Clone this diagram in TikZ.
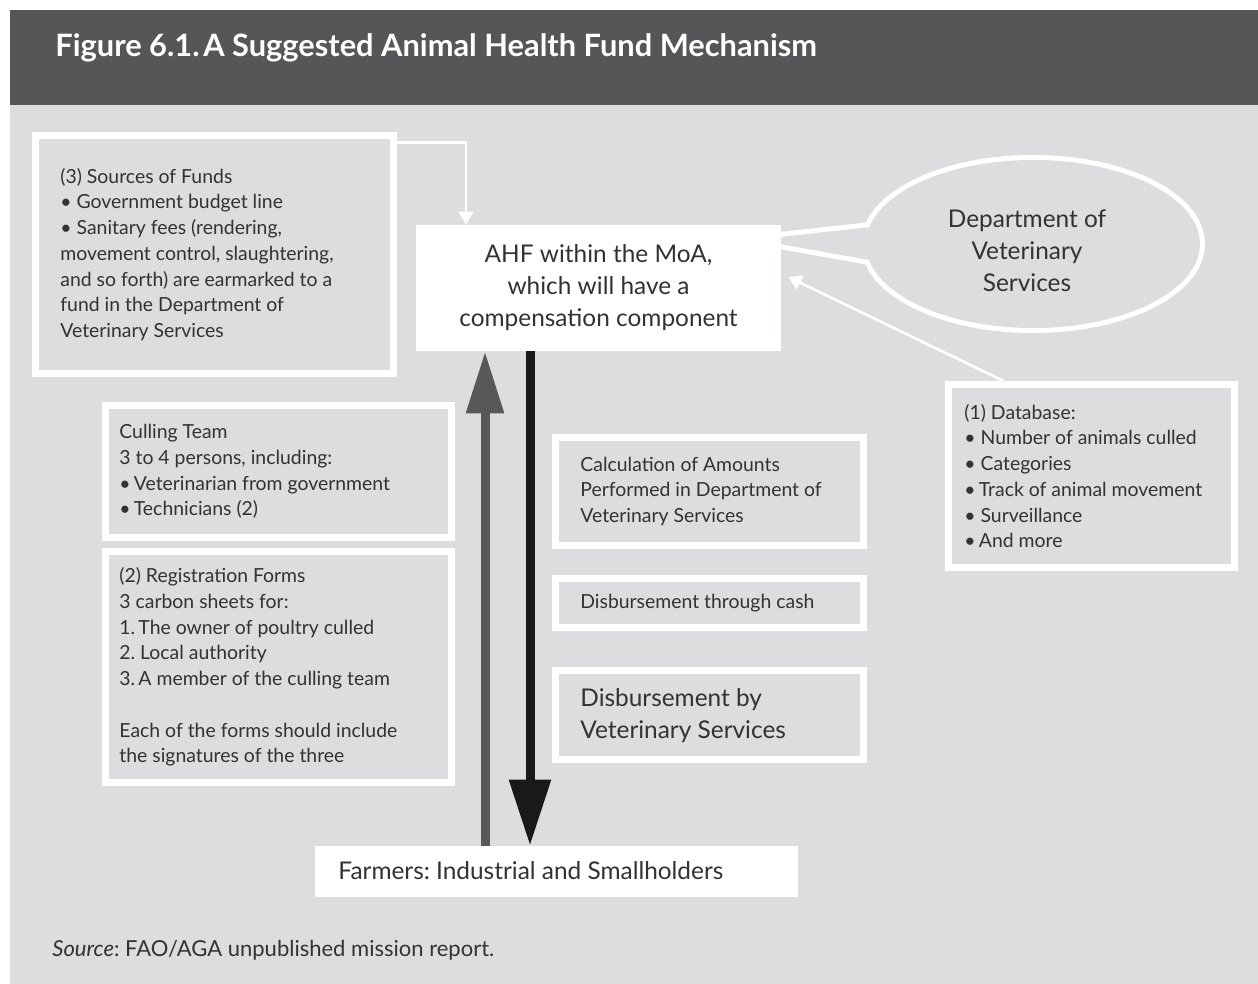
\documentclass[tikz,border=0pt]{standalone}
\usepackage{fontspec}
\setmainfont{Lato}
\usetikzlibrary{arrows.meta,shapes.geometric}
\definecolor{bggray}{RGB}{220,221,223}
\definecolor{headgray}{RGB}{86,86,89}
\definecolor{inkgray}{RGB}{50,50,52}
\definecolor{upgray}{RGB}{88,88,91}
\tikzset{>=Latex}
\tikzset{
  panel/.style={draw=white, line width=3.5pt, fill=bggray, inner sep=0pt},
  whitebox/.style={fill=white, inner sep=0pt},
  txt/.style={text=inkgray, align=left, inner sep=0pt, font=\fontsize{9.7}{12.85}\selectfont},
  bigtxt/.style={text=inkgray, inner sep=0pt, font=\fontsize{12.2}{16}\selectfont},
  wire/.style={draw=white, line width=1.3pt, -{Triangle[width=7.5pt,length=6.5pt]}},
  uparrow/.style={draw=upgray, line width=4.5pt, -{Triangle[width=18pt,length=31pt]}},
  downarrow/.style={draw=black!90, line width=4.5pt, -{Triangle[width=20pt,length=33pt]}}
}

\begin{document}
\begin{tikzpicture}[x=0.5pt, y=0.5pt]
    \useasboundingbox(0, 0)rectangle(1258, -984);
    \fill[white](0, 0)rectangle(1258, -984);
    \fill[bggray](10, -10)rectangle(1258, -984);
    \fill[headgray](10, -10)rectangle(1258, -105);
    \node[anchor=base west, text=white, inner sep=0pt, font=\fontsize{15.4}{17}\selectfont\bfseries](title)at(55, -57){Figure 6.1.\hspace{0.12em}A Suggested Animal Health Fund Mechanism};

    \node[panel, minimum width=179pt, minimum height=119pt](src)at(214.5, -254.5){};
    \node[txt, anchor=west](srcl)at(60, -254.5){(3) Sources of Funds\\ \textbullet\ Government budget line\\ \textbullet\ Sanitary fees (rendering,\\ movement control, slaughtering,\\ and so forth) are earmarked to a\\ fund in the Department of\\ Veterinary Services};
    \node[panel, minimum width=173pt, minimum height=66pt](cull)at(278.5, -471.5){};
    \node[txt, anchor=west](culll)at(119, -471.5){Culling Team\\ 3 to 4 persons, including:\\ \textbullet\,Veterinarian from government\\ \textbullet\,Technicians (2)};
    \node[panel, minimum width=173pt, minimum height=115.5pt](reg)at(278.5, -667){};
    \node[txt, anchor=west](regl)at(119, -667){(2) Registration Forms\\ 3 carbon sheets for:\\ 1.\,The owner of poultry culled\\ 2.\ Local authority\\ 3.\,A member of the culling team\\[12.85pt] Each of the forms should include\\ the signatures of the three};
    \node[panel, minimum width=154pt, minimum height=54pt](calc)at(709.5, -491.5){};
    \node[txt, anchor=west](calcl)at(580, -491.5){Calculation of Amounts\\ Performed in Department of\\ Veterinary Services};
    \node[panel, minimum width=154pt, minimum height=24.5pt](cash)at(709.5, -603){};
    \node[txt, anchor=west](cashl)at(580, -603){Disbursement through cash};
    \node[panel, minimum width=154pt, minimum height=44.5pt](disb)at(709.5, -715){};
    \node[bigtxt, align=left, anchor=west](disbl)at(580, -716){Disbursement by\\ Veterinary Services};
    \node[panel, minimum width=143pt, minimum height=91.5pt](db)at(1091.5, -476){};
    \node[txt, anchor=west](dbl)at(964, -476){(1) Database:\\ \textbullet\ Number of animals culled\\ \textbullet\ Categories\\ \textbullet\,Track of animal movement\\ \textbullet\ Surveillance\\ \textbullet\,And more};

    \draw[white, line width=5pt](780, -237)--(880, -226)--(880, -262)--(780, -244)--cycle;
    \node[ellipse, inner sep=0pt, fill=bggray, preaction={draw=white, line width=5pt}, minimum width=167pt, minimum height=84pt](dvs)at(1033, -244){};
    \fill[bggray](780, -237)--(880, -226)--(880, -262)--(780, -244)--cycle;
    \node[bigtxt, align=center](dvsl)at(1027, -251){Department of\\ Veterinary\\ Services};

    \node[whitebox, bigtxt, align=center, minimum width=182.5pt, minimum height=63pt](ahf)at(598.5, -288){AHF within the MoA,\\ which will have a\\ compensation component};
    \node[whitebox, minimum width=241.5pt, minimum height=25.5pt](farm)at(556.5, -871.5){};
    \node[bigtxt, anchor=west](farml)at(338, -871){Farmers:\ Industrial and Smallholders};

    \draw[wire]([yshift=-5.25pt]src.north east)-|([xshift=-66.25pt]ahf.north);
    \draw[wire]([xshift=29.25pt]db.north west)--([shift={(3.5pt, 5.5pt)}]ahf.east);
    \draw[uparrow]([xshift=-35.75pt]farm.north)--([xshift=-56.75pt]ahf.south);
    \draw[downarrow]([xshift=-34.25pt]ahf.south)--([xshift=-13.25pt]farm.north);

    \node[anchor=base west, text=inkgray, inner sep=0pt, font=\fontsize{11}{13}\selectfont](srcnote)at(52, -956){\textit{Source}:\ FAO/AGA unpublished mission report.};
\end{tikzpicture}
\end{document}
